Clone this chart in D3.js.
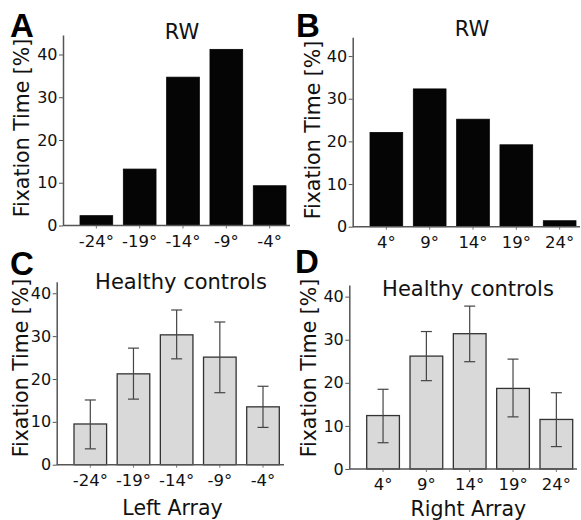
<!DOCTYPE html>
<html>
<head>
<meta charset="utf-8">
<script src="https://cdn.jsdelivr.net/npm/d3@7"></script>
<style>
  body { margin: 0; background: #fff; }
  svg { font-family: "DejaVu Sans", Verdana, sans-serif; }
  .tick text { fill: #111; }
</style>
</head>
<body>
<svg id="chart" width="581" height="520"></svg>
<script>
// categories
var leftCats = ["-24°", "-19°", "-14°", "-9°", "-4°"];
var rightCats = ["4°", "9°", "14°", "19°", "24°"];
var yTicks = [0, 10, 20, 30, 40];

// RW patient, fixation time [%]
var rwLeft = [2.3, 13.2, 34.7, 41.2, 9.3];
var rwRight = [22.1, 32.3, 25.2, 19.2, 1.4];

// healthy controls, mean and error bar ends
var hcLeft = [9.5, 21.2, 30.3, 25.1, 13.5];
var hcLeftLow = [3.7, 15.3, 24.7, 16.8, 8.7];
var hcLeftHigh = [15.1, 27.2, 36.1, 33.3, 18.3];
var hcRight = [12.4, 26.2, 31.4, 18.7, 11.5];
var hcRightLow = [6.1, 20.5, 24.9, 12.1, 5.2];
var hcRightHigh = [18.5, 31.9, 37.8, 25.5, 17.7];

var svg = d3.select("#chart");

var panels = [
  {letter: "A", lx: 10, ly: 37, cats: leftCats, vals: rwLeft, title: "RW", tx: 182, ty: 39,
   ax: 63, y0: 225.5, yTop: 35, yMax: 44.56, bx: [80, 286], xEnd: 290, labX: 22, labY: 128},
  {letter: "B", lx: 296, ly: 37, cats: rightCats, vals: rwRight, title: "RW", tx: 472, ty: 36,
   ax: 352.7, y0: 226.7, yTop: 37.3, yMax: 44.4, bx: [370, 576], xEnd: 580, labX: 313, labY: 130},
  {letter: "C", lx: 10, ly: 275, cats: leftCats, vals: hcLeft, lo: hcLeftLow, hi: hcLeftHigh,
   title: "Healthy controls", tx: 181, ty: 288.5, xlabel: "Left Array", xlx: 172.5, xly: 515,
   ax: 56.7, y0: 464.7, yTop: 281.7, yMax: 42.7, bx: [74, 279.3], xEnd: 284, labX: 21, labY: 368},
  {letter: "D", lx: 295, ly: 273, cats: rightCats, vals: hcRight, lo: hcRightLow, hi: hcRightHigh,
   title: "Healthy controls", tx: 468, ty: 296, xlabel: "Right Array", xlx: 468.3, xly: 516,
   ax: 349.3, y0: 469, yTop: 285, yMax: 42.7, bx: [366.7, 572.7], xEnd: 577, labX: 309, labY: 368}
];

panels.forEach(function(p) {
  var g = svg.append("g");
  var errs = !!p.lo;

  var x = d3.scaleBand().domain(p.cats).range(p.bx).paddingInner(0.245).paddingOuter(0);
  var y = d3.scaleLinear().domain([0, p.yMax]).range([p.y0, p.yTop]);

  // bars
  g.selectAll(".bar")
      .data(p.vals)
      .enter().append("rect")
      .attr("class", "bar")
      .attr("x", function(d, i) { return x(p.cats[i]); })
      .attr("y", function(d) { return y(d); })
      .attr("width", x.bandwidth())
      .attr("height", function(d) { return y(0) - y(d); })
      .attr("fill", errs ? "#d9d9d9" : "#050505")
      .attr("stroke", errs ? "#333" : "#050505")
      .attr("stroke-width", errs ? 1.3 : 0.8);

  // error bars
  if (errs) {
    var cap = 5.5;
    var eb = g.selectAll(".err")
        .data(p.vals)
        .enter().append("g")
        .attr("class", "err")
        .attr("stroke", "#444")
        .attr("stroke-width", 1.2);
    eb.append("line")
        .attr("x1", function(d, i) { return x(p.cats[i]) + x.bandwidth() / 2; })
        .attr("x2", function(d, i) { return x(p.cats[i]) + x.bandwidth() / 2; })
        .attr("y1", function(d, i) { return y(p.lo[i]); })
        .attr("y2", function(d, i) { return y(p.hi[i]); });
    [p.lo, p.hi].forEach(function(arr) {
      eb.append("line")
          .attr("x1", function(d, i) { return x(p.cats[i]) + x.bandwidth() / 2 - cap; })
          .attr("x2", function(d, i) { return x(p.cats[i]) + x.bandwidth() / 2 + cap; })
          .attr("y1", function(d, i) { return y(arr[i]); })
          .attr("y2", function(d, i) { return y(arr[i]); });
    });
  }

  // y axis
  var ya = g.append("g")
      .attr("transform", "translate(" + p.ax + ",0)")
      .call(d3.axisLeft(y).tickValues(yTicks).tickSize(4).tickSizeOuter(0).tickPadding(1.5));
  ya.select(".domain").attr("stroke", "#555").attr("stroke-width", 1.5);
  ya.selectAll(".tick line").attr("stroke", "#555");
  ya.selectAll(".tick text").attr("font-size", 16).attr("font-family", "DejaVu Sans");

  // x axis
  var xa = g.append("g")
      .attr("transform", "translate(0," + p.y0 + ")")
      .call(d3.axisBottom(x).tickSize(3).tickSizeOuter(0).tickPadding(6.5));
  xa.select(".domain").remove();
  xa.append("line")
      .attr("x1", p.ax).attr("x2", p.xEnd)
      .attr("stroke", "#555").attr("stroke-width", 1.5);
  xa.selectAll(".tick line").attr("stroke", "#777");
  xa.selectAll(".tick text").attr("font-size", 16.5).attr("font-family", "DejaVu Sans");

  // y axis title
  g.append("text")
      .attr("transform", "translate(" + p.labX + "," + p.labY + ") rotate(-90)")
      .attr("dy", "0.36em")
      .attr("text-anchor", "middle")
      .attr("font-size", 20.5)
      .attr("fill", "#111")
      .text("Fixation Time [%]");

  // panel title
  g.append("text")
      .attr("x", p.tx).attr("y", p.ty)
      .attr("text-anchor", "middle")
      .attr("font-size", 21)
      .attr("fill", "#111")
      .text(p.title);

  if (p.xlabel) {
    g.append("text")
        .attr("x", p.xlx).attr("y", p.xly)
        .attr("text-anchor", "middle")
        .attr("font-size", 20.5)
        .attr("fill", "#111")
        .text(p.xlabel);
  }

  // panel letter
  g.append("text")
      .attr("x", p.lx).attr("y", p.ly)
      .attr("font-family", "Liberation Sans, Arial, sans-serif")
      .attr("font-weight", "bold")
      .attr("font-size", 33)
      .attr("fill", "#000")
      .text(p.letter);
});
</script>
</body>
</html>
